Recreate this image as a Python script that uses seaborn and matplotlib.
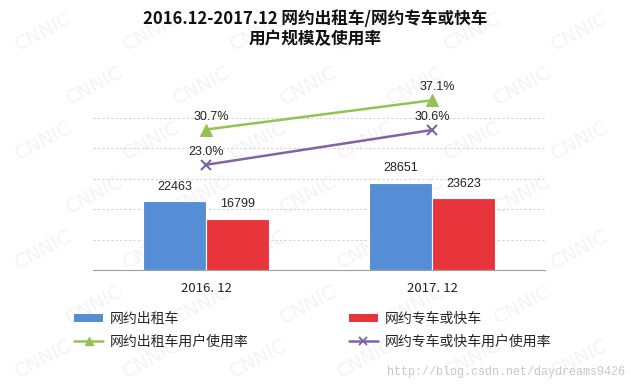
import numpy as np
import pandas as pd
import matplotlib
matplotlib.use("Agg")
import matplotlib.pyplot as plt
from matplotlib.patches import Patch
from matplotlib.lines import Line2D
import seaborn as sns

# data
periods = ["2016. 12", "2017. 12"]
taxi_users = [22463, 28651]          # 网约出租车 用户规模(万)
car_users = [16799, 23623]           # 网约专车或快车 用户规模(万)
taxi_rate = [30.7, 37.1]             # 网约出租车用户使用率 (%)
car_rate = [23.0, 30.6]              # 网约专车或快车用户使用率 (%)
series_names = ["网约出租车", "网约专车或快车"]
rate_names = ["网约出租车用户使用率", "网约专车或快车用户使用率"]

blue = "#558ED5"
red = "#E8353B"
green = "#92C353"
purple = "#8064A8"

sns.set_style("white")
plt.rcParams["font.family"] = ["Noto Sans CJK SC", "DejaVu Sans"]
num_font = ["Liberation Sans", "Noto Sans CJK SC"]

df = pd.DataFrame({
    "period": periods * 2,
    "users": taxi_users + car_users,
    "series": [series_names[0]] * 2 + [series_names[1]] * 2,
})

fig = plt.figure(figsize=(6.3, 3.9), dpi=100)
ax = fig.add_axes([93 / 630, 120 / 390, 452 / 630, 183 / 390])
ax.set_facecolor("none")

# faint CNNIC watermark, kept inside the figure
for r, yy in enumerate(np.arange(0.92, 0.05, -0.14)):
    off = 0.08 * (r % 2)
    for xx in np.arange(0.07 + off, 0.95, 0.17):
        fig.text(xx, yy, "CNNIC", fontsize=14, color="#f3f3f3", rotation=28,
                 ha="center", va="center", family="DejaVu Sans", zorder=-5)

sns.barplot(data=df, x="period", y="users", hue="series", order=periods,
            hue_order=series_names, palette=[blue, red], width=0.56, saturation=1,
            edgecolor="white", linewidth=0.8, ax=ax, legend=False, zorder=3)

for cont in ax.containers:
    ax.bar_label(cont, labels=[f"{v:.0f}" for v in cont.datavalues], padding=6,
                 fontsize=9, color="#222222", family=num_font)

ax.set_ylim(0, 60000)
ax.set_xlim(-0.5, 1.5)
ax.set_yticks([10000, 20000, 30000, 40000, 50000])
ax.tick_params(axis="y", length=0, labelleft=False)
ax.grid(axis="y", linestyle=(0, (2, 2)), color="#d4d4d4", linewidth=0.8)
ax.set_axisbelow(True)
for s in ["top", "left", "right"]:
    ax.spines[s].set_visible(False)
ax.spines["bottom"].set_color("#a0a0a0")
ax.set_xticks([-0.5, 0.5, 1.5], minor=True)
ax.tick_params(axis="x", which="minor", length=5, color="#a0a0a0", direction="out")
ax.tick_params(axis="x", which="major", length=0, pad=9, labelsize=9.5, labelcolor="#222222")
ax.set_xlabel("")
ax.set_ylabel("")

ax2 = ax.twinx()
ax2.set_facecolor("none")
xpos = np.arange(len(periods))
sns.lineplot(x=xpos, y=taxi_rate, color=green, marker="^", markersize=8,
             markeredgecolor=green, linewidth=1.8, ax=ax2)
sns.lineplot(x=xpos, y=car_rate, color=purple, marker="x", markersize=7,
             markeredgecolor=purple, markeredgewidth=1.5, linewidth=1.8, ax=ax2)
for xi, v in zip(xpos, taxi_rate):
    ax2.annotate(f"{v:.1f}%", (xi, v), xytext=(4, 5), textcoords="offset points",
                 ha="center", va="bottom", fontsize=9, color="#222222", family=num_font)
for xi, v in zip(xpos, car_rate):
    ax2.annotate(f"{v:.1f}%", (xi, v), xytext=(0, 5), textcoords="offset points",
                 ha="center", va="bottom", fontsize=9, color="#222222", family=num_font)
ax2.set_ylim(0, 40)
ax2.set_yticks([])
for s in ["top", "left", "right", "bottom"]:
    ax2.spines[s].set_visible(False)
ax2.set_xlim(-0.5, 1.5)

fig.text(0.5, 1 - 29 / 390, "2016.12-2017.12 网约出租车/网约专车或快车\n用户规模及使用率",
         ha="center", va="center", fontsize=12, fontweight="bold", linespacing=1.15,
         color="#111111")

handles = [
    Patch(facecolor=blue, edgecolor="none"),
    Line2D([], [], color=green, marker="^", markersize=6, linewidth=1.8),
    Patch(facecolor=red, edgecolor="none"),
    Line2D([], [], color=purple, marker="x", markersize=6, markeredgewidth=1.3, linewidth=1.8),
]
labels = [series_names[0], rate_names[0], series_names[1], rate_names[1]]
fig.legend(handles, labels, loc="upper left", bbox_to_anchor=(74 / 630, 1 - 312 / 390),
           ncol=2, frameon=False, fontsize=10, handlelength=2.1, handleheight=0.5,
           handletextpad=0.5, columnspacing=7.2, labelspacing=0.6, borderpad=0,
           borderaxespad=0)

fig.text(1 - 5 / 630, 1 - 372 / 390, "http://blog.csdn.net/daydreams9426",
         ha="right", va="center", fontsize=8.5, color="#c8c8c8", family="Liberation Mono")

fig.savefig("out.png", dpi=100)
